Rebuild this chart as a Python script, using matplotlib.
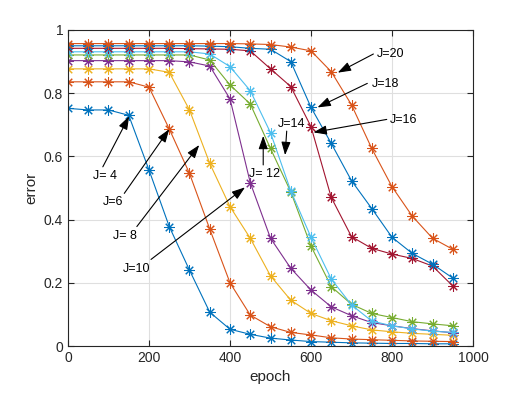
"""Training error vs. epoch for different J (MATLAB-style line chart with arrow labels)."""

import matplotlib

matplotlib.use("Agg")
import matplotlib.pyplot as plt

plt.rcParams["font.family"] = ["Liberation Sans", "DejaVu Sans"]

EPOCHS = list(range(0, 1000, 50))

ERR_J4 = [0.752, 0.747, 0.747, 0.730, 0.557, 0.378, 0.240, 0.107, 0.053, 0.037,
          0.025, 0.019, 0.014, 0.012, 0.010, 0.009, 0.008, 0.008, 0.007, 0.007]
ERR_J6 = [0.836, 0.836, 0.836, 0.836, 0.819, 0.687, 0.546, 0.370, 0.200, 0.098,
          0.061, 0.043, 0.035, 0.026, 0.022, 0.020, 0.018, 0.016, 0.015, 0.014]
ERR_J8 = [0.877, 0.877, 0.877, 0.877, 0.877, 0.866, 0.747, 0.578, 0.441, 0.341,
          0.222, 0.145, 0.103, 0.080, 0.064, 0.051, 0.045, 0.040, 0.037, 0.034]
ERR_J10 = [0.903, 0.903, 0.903, 0.903, 0.903, 0.903, 0.899, 0.886, 0.782, 0.517,
           0.341, 0.246, 0.177, 0.124, 0.096, 0.074, 0.064, 0.055, 0.048, 0.042]
ERR_J12 = [0.921, 0.921, 0.921, 0.921, 0.921, 0.921, 0.921, 0.905, 0.826, 0.766,
           0.625, 0.488, 0.316, 0.188, 0.132, 0.103, 0.090, 0.077, 0.070, 0.064]
ERR_J14 = [0.931, 0.931, 0.931, 0.931, 0.931, 0.931, 0.931, 0.924, 0.884, 0.808,
           0.675, 0.491, 0.344, 0.212, 0.130, 0.079, 0.064, 0.054, 0.047, 0.043]
ERR_J16 = [0.942, 0.942, 0.942, 0.942, 0.942, 0.942, 0.941, 0.940, 0.939, 0.934,
           0.877, 0.821, 0.694, 0.470, 0.346, 0.309, 0.291, 0.277, 0.253, 0.190]
ERR_J18 = [0.950, 0.950, 0.950, 0.950, 0.950, 0.950, 0.950, 0.949, 0.947, 0.942,
           0.939, 0.900, 0.755, 0.641, 0.523, 0.435, 0.344, 0.293, 0.259, 0.215]
ERR_J20 = [0.957, 0.957, 0.957, 0.957, 0.957, 0.957, 0.957, 0.957, 0.957, 0.956,
           0.954, 0.946, 0.934, 0.868, 0.763, 0.625, 0.504, 0.411, 0.341, 0.306]

SERIES = [ERR_J4, ERR_J6, ERR_J8, ERR_J10, ERR_J12, ERR_J14, ERR_J16, ERR_J18, ERR_J20]

# MATLAB default color order (cycles after 7).
MATLAB_COLORS = ["#0072BD", "#D95319", "#EDB120", "#7E2F8E", "#77AC30", "#4DBEEE", "#A2142F"]

# Arrow labels: text, text position, arrow tail, arrow head (data coords).
LABELS = ["J= 4", "J=6", "J= 8", "J=10", "J= 12", "J=14", "J=16", "J=18", "J=20"]
TEXT_POS = [(91, 0.538), (112, 0.457), (141, 0.348), (170, 0.243), (486, 0.544),
            (552, 0.703), (828, 0.715), (783, 0.829), (797, 0.924)]
TAIL_POS = [(86, 0.567), (139, 0.483), (170, 0.378), (205, 0.274), (482, 0.573),
            (540, 0.680), (787, 0.717), (739, 0.831), (754, 0.924)]
HEAD_POS = [(151, 0.727), (250, 0.686), (324, 0.636), (437, 0.502), (482, 0.665),
            (536, 0.604), (606, 0.676), (616, 0.755), (666, 0.865)]

AX_COLOR = "#262626"
ASTERISK = (8, 2, 0)  # 8-armed asterisk like MATLAB's '*'

fig = plt.figure(figsize=(5.25, 3.94), dpi=100)
fig.patch.set_facecolor("white")
ax = fig.add_axes([0.1295, 0.1218, 0.7715, 0.8021])

for i, values in enumerate(SERIES):
    ax.plot(
        EPOCHS,
        values,
        color=MATLAB_COLORS[i % len(MATLAB_COLORS)],
        linewidth=0.8,
        marker=ASTERISK,
        markersize=7.5,
        markeredgewidth=0.75,
    )

for label, tpos, tail, head in zip(LABELS, TEXT_POS, TAIL_POS, HEAD_POS):
    ax.annotate(
        "",
        xy=head,
        xytext=tail,
        arrowprops=dict(
            arrowstyle="-|>,head_length=0.8,head_width=0.28",
            color="black",
            lw=0.8,
            shrinkA=0,
            shrinkB=0,
            mutation_scale=10,
        ),
    )
    ax.text(tpos[0], tpos[1], label, fontsize=9, ha="center", va="center", color="black")

ax.set_xlim(0, 1000)
ax.set_ylim(0, 1)
ax.set_xticks([0, 200, 400, 600, 800, 1000])
ax.set_yticks([0, 0.2, 0.4, 0.6, 0.8, 1.0])
ax.set_yticklabels(["0", "0.2", "0.4", "0.6", "0.8", "1"])
ax.grid(True, color="#dfdfdf", linewidth=0.8)
ax.set_axisbelow(True)
ax.tick_params(direction="in", length=4, colors=AX_COLOR, labelsize=10,
               top=True, right=True, labeltop=False, labelright=False)
for spine in ax.spines.values():
    spine.set_color(AX_COLOR)
    spine.set_linewidth(0.8)

ax.set_xlabel("epoch", fontsize=11, color=AX_COLOR)
ax.set_ylabel("error", fontsize=11, color=AX_COLOR)

fig.savefig("out.png", dpi=100)
